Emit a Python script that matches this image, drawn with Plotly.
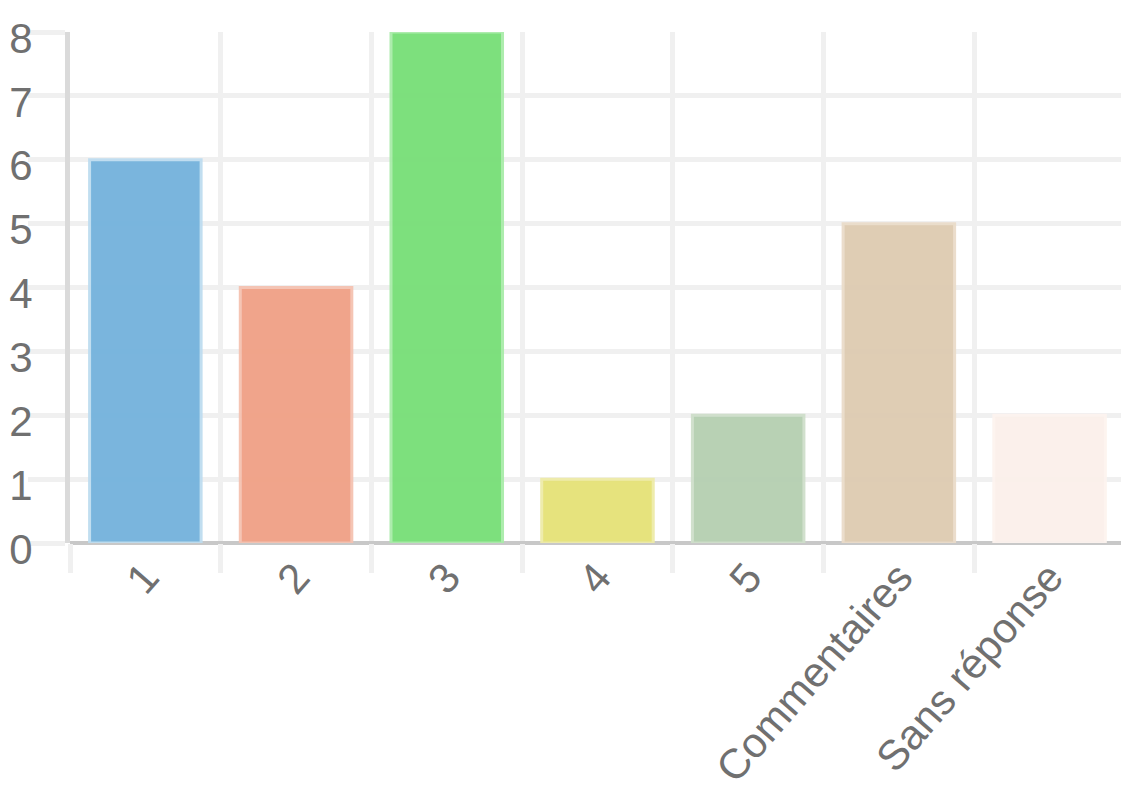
import plotly.graph_objects as go

categories = ["1", "2", "3", "4", "5", "Commentaires", "Sans réponse"]
values = [6, 4, 8, 1, 2, 5, 2]
fill_colors = ["#73B2DC", "#F0A085", "#77DF77", "#E5E277", "#B5CFB1", "#DECBB1", "#FBF0EA"]
border_colors = ["#BEDDF0", "#F5C2B1", "#A9EBA9", "#EEEBA8", "#CFDFCB", "#EADCCA", "#FDF4EF"]
y_ticks = [0, 1, 2, 3, 4, 5, 6, 7, 8]

fig = go.Figure(go.Bar(
    x=categories,
    y=values,
    marker=dict(color=fill_colors, line=dict(color=border_colors, width=3)),
    opacity=0.95,
    width=0.74,
))

grid = "#F0F0F0"
fig.update_layout(
    width=1121, height=792,
    margin=dict(l=70, r=0, t=32, b=249),
    paper_bgcolor="white", plot_bgcolor="white",
    font=dict(family="Liberation Sans, Arial, sans-serif", size=40, color="#6E6E6E"),
    showlegend=False,
)
fig.update_xaxes(
    type="category",
    range=[-0.5, 6.474],
    tickson="boundaries",
    automargin=False,
    showgrid=True, gridcolor=grid, gridwidth=5,
    ticks="outside", ticklen=29, tickcolor=grid, tickwidth=5,
    tickangle=-49,
    tickfont=dict(size=42, color="#707070"),
    showline=False,
    zeroline=False,
)
fig.update_yaxes(
    range=[0, 8],
    tickvals=y_ticks,
    automargin=False,
    showgrid=True, gridcolor=grid, gridwidth=5,
    ticks="outside", ticklen=37, tickcolor=grid, tickwidth=5,
    tickfont=dict(size=42, color="#707070"),
    zeroline=True, zerolinecolor="#C8C8C8", zerolinewidth=4,
    showline=True, linecolor="#DADADA", linewidth=5,
    ticklabelstandoff=-13,
    ticklabelshift=6,
)

fig.write_html(
    "out.html",
    config={"displayModeBar": False},
    post_script="document.body.style.margin='0';document.body.style.overflow='hidden';",
)
